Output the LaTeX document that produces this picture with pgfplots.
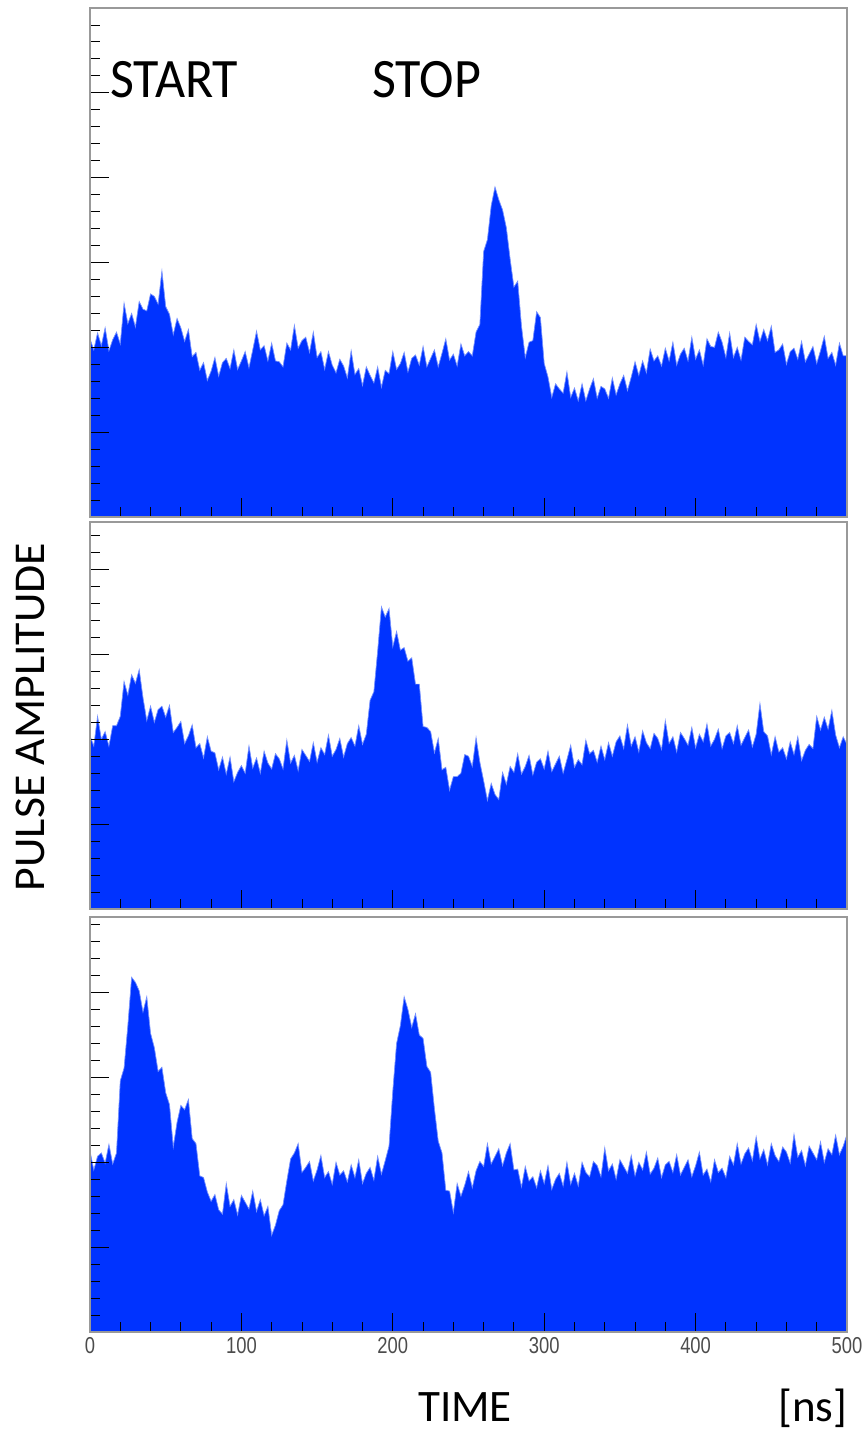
\documentclass[border=0pt]{standalone}
\usepackage{graphicx}
\usepackage{pgfplots}
\pgfplotsset{compat=1.18}
\usepackage{pgfplotstable}
\usepackage{fontspec}
\setmainfont{Carlito}
\newfontfamily\arialf{Liberation Sans}
\definecolor{pblue}{RGB}{0,51,255}
\newcommand\lbl[1]{\scalebox{0.92}[1.15]{\arialf\fontsize{20}{20}\selectfont\color{black!70}#1}}

\pgfplotstableread{
t a b c
0 2.10 2.04 2.13
2.5 1.97 1.92 1.91
5 2.17 2.27 2.07
7.5 2.02 2.00 2.11
10 2.23 2.09 1.99
12.5 1.96 1.92 2.21
15 2.09 2.16 1.98
17.5 2.18 2.16 2.11
20 2.04 2.27 2.96
22.5 2.52 2.68 3.11
25 2.28 2.52 3.61
27.5 2.40 2.76 4.18
30 2.24 2.66 4.12
32.5 2.54 2.82 4.02
35 2.45 2.49 3.77
37.5 2.43 2.22 3.95
40 2.63 2.39 3.52
42.5 2.60 2.20 3.35
45 2.51 2.35 3.07
47.5 2.90 2.39 3.12
50 2.48 2.26 2.82
52.5 2.39 2.40 2.68
55 2.15 2.08 2.18
57.5 2.34 2.14 2.47
60 2.23 2.21 2.67
62.5 2.07 1.95 2.62
65 2.21 2.04 2.74
67.5 1.89 2.17 2.28
70 1.94 1.90 2.22
72.5 1.73 1.95 1.84
75 1.82 1.78 1.82
77.5 1.61 2.03 1.65
80 1.72 1.86 1.54
82.5 1.88 1.84 1.62
85 1.66 1.64 1.44
87.5 1.82 1.79 1.39
90 1.87 1.59 1.75
92.5 1.75 1.79 1.48
95 1.97 1.50 1.56
97.5 1.74 1.61 1.38
100 1.84 1.69 1.61
102.5 1.95 1.60 1.53
105 1.76 1.92 1.45
107.5 1.97 1.66 1.66
110 2.19 1.78 1.42
112.5 1.97 1.60 1.56
115 2.02 1.86 1.37
117.5 1.84 1.72 1.48
120 2.05 1.65 1.14
122.5 1.84 1.83 1.26
125 1.83 1.77 1.43
127.5 1.77 1.65 1.50
130 2.05 1.99 1.78
132.5 1.97 1.72 2.04
135 2.26 1.81 2.11
137.5 1.99 1.63 2.22
140 2.08 1.88 1.88
142.5 2.12 1.81 1.94
145 1.94 1.74 2.01
147.5 2.18 1.96 1.78
150 1.88 1.73 1.91
152.5 1.95 1.90 2.08
155 1.74 1.82 1.82
157.5 1.95 2.05 1.89
160 1.79 1.80 1.74
162.5 1.70 1.88 2.00
165 1.86 2.01 1.85
167.5 1.78 1.79 1.90
170 1.64 1.95 1.77
172.5 1.96 2.02 1.97
175 1.68 1.92 1.82
177.5 1.75 2.16 2.03
180 1.55 1.94 1.75
182.5 1.77 2.06 1.87
185 1.67 2.46 1.94
187.5 1.58 2.56 1.79
190 1.77 3.04 2.07
192.5 1.53 3.56 1.86
195 1.73 3.44 2.02
197.5 1.69 3.54 2.19
200 1.95 3.09 2.84
202.5 1.74 3.27 3.40
205 1.81 3.05 3.61
207.5 1.94 3.08 3.95
210 1.71 2.92 3.80
212.5 1.87 2.96 3.59
215 1.91 2.65 3.75
217.5 1.79 2.65 3.50
220 2.01 2.15 3.46
222.5 1.77 2.14 3.13
225 1.87 2.09 3.06
227.5 1.97 1.84 2.63
230 1.77 2.01 2.25
232.5 1.93 1.64 2.11
235 2.10 1.67 1.67
237.5 1.85 1.40 1.66
240 1.92 1.56 1.41
242.5 1.78 1.56 1.75
245 2.04 1.60 1.60
247.5 1.90 1.82 1.73
250 1.95 1.80 1.89
252.5 1.90 1.68 1.70
255 2.18 2.02 1.90
257.5 2.27 1.73 2.01
260 3.13 1.51 1.95
262.5 3.27 1.28 2.22
265 3.67 1.48 1.98
267.5 3.89 1.35 2.07
270 3.74 1.29 2.16
272.5 3.62 1.61 1.96
275 3.41 1.47 2.11
277.5 3.04 1.68 2.22
280 2.71 1.61 1.91
282.5 2.78 1.83 1.92
285 2.25 1.59 1.71
287.5 1.88 1.68 1.95
290 2.06 1.81 1.78
292.5 2.08 1.58 1.83
295 2.42 1.73 1.70
297.5 2.35 1.77 1.90
300 1.81 1.65 1.75
302.5 1.65 1.86 1.96
305 1.41 1.62 1.68
307.5 1.57 1.71 1.80
310 1.51 1.80 1.87
312.5 1.46 1.60 1.72
315 1.71 1.76 2.00
317.5 1.41 1.93 1.74
320 1.52 1.67 1.87
322.5 1.37 1.76 1.72
325 1.57 1.70 2.00
327.5 1.37 1.99 1.88
330 1.51 1.83 1.83
332.5 1.63 1.87 2.01
335 1.40 1.73 1.96
337.5 1.54 1.92 1.83
340 1.51 1.76 2.17
342.5 1.40 1.96 1.90
345 1.64 1.80 1.98
347.5 1.44 1.97 1.80
350 1.57 2.04 2.03
352.5 1.67 1.89 1.95
355 1.49 2.17 1.87
357.5 1.65 1.92 2.08
360 1.83 2.03 1.84
362.5 1.67 1.85 2.00
365 1.84 2.10 1.91
367.5 1.70 1.96 2.12
370 1.98 1.89 1.86
372.5 1.84 2.07 1.93
375 1.90 2.01 2.05
377.5 1.78 1.88 1.82
380 1.99 2.22 1.97
382.5 1.84 1.95 2.01
385 2.06 2.03 1.88
387.5 1.79 1.85 2.09
390 1.92 2.08 1.85
392.5 1.99 2.01 1.94
395 1.84 1.93 2.03
397.5 2.12 2.14 1.83
400 1.86 1.90 1.96
402.5 1.97 2.06 2.12
405 1.79 1.97 1.85
407.5 2.10 2.18 1.92
410 2.01 1.92 1.77
412.5 2.00 2.00 2.03
415 2.18 2.12 1.88
417.5 2.06 1.89 1.93
420 1.88 2.04 1.82
422.5 2.17 2.08 2.07
425 1.88 1.95 1.97
427.5 2.00 2.16 2.22
430 1.85 1.93 1.98
432.5 2.12 2.02 2.10
435 2.07 2.11 2.17
437.5 2.03 1.91 2.02
440 2.27 2.06 2.30
442.5 2.07 2.42 2.04
445 2.21 2.09 2.15
447.5 2.08 2.04 1.97
450 2.25 1.82 2.22
452.5 1.94 2.03 2.08
455 1.97 1.85 2.01
457.5 2.04 1.90 2.18
460 1.80 1.77 2.12
462.5 1.95 1.97 1.99
465 1.99 1.82 2.33
467.5 1.86 2.03 2.06
470 2.07 1.75 2.14
472.5 1.83 1.87 1.96
475 1.92 1.94 2.19
477.5 2.01 1.89 2.11
480 1.81 2.27 2.03
482.5 1.96 2.11 2.24
485 2.13 2.26 2.00
487.5 1.87 2.12 2.16
490 1.94 2.34 2.09
492.5 1.79 2.05 2.32
495 2.05 1.90 2.09
497.5 1.90 2.03 2.19
500 1.90 1.94 2.33
}\data

\pgfplotsset{
  panel/.style={
    scale only axis, width=757pt,
    xmin=0, xmax=500, ymin=0,
    axis on top,
    xtick={0,100,...,500}, minor x tick num=4,
    ytick={0,1,...,6}, minor y tick num=4,
    tick align=inside, tick pos=left,
    major tick length=19pt, minor tick length=10pt,
    tick style={black, line width=0.9pt},
    axis line style={black!40, line width=1.1pt},
    yticklabels={},
    anchor=south west,
  },
  hist/.style={sharp plot, fill=pblue, draw=pblue!55, line width=0.7pt},
}

\begin{document}
\begin{tikzpicture}
\path[use as bounding box] (0pt,0pt) rectangle (864pt,-1432pt);

\begin{axis}[panel, at={(90pt,-517pt)}, height=509pt, ymax=6.0, xticklabels={}]
\addplot[hist] table[x=t, y=a] {\data} \closedcycle;
\end{axis}

\begin{axis}[panel, at={(90pt,-909pt)}, height=387pt, ymax=4.56, xticklabels={}]
\addplot[hist] table[x=t, y=b] {\data} \closedcycle;
\end{axis}

\begin{axis}[panel, at={(90pt,-1332pt)}, height=415pt, ymax=4.89,
  xticklabels={\lbl{0},\lbl{100},\lbl{200},\lbl{300},\lbl{400},\lbl{500}},
  xticklabel style={yshift=-2pt}]
\addplot[hist] table[x=t, y=c] {\data} \closedcycle;
\end{axis}

\node[anchor=base west, inner sep=0pt, yscale=1.07, font=\fontsize{52}{52}\selectfont] at (110pt,-97pt) {START};
\node[anchor=base west, inner sep=0pt, yscale=1.07, font=\fontsize{52}{52}\selectfont] at (372pt,-97pt) {STOP};
\node[anchor=base west, inner sep=0pt, font=\fontsize{45}{45}\selectfont] at (418pt,-1421pt) {TIME};
\node[anchor=base west, inner sep=0pt, font=\fontsize{45}{45}\selectfont] at (778pt,-1421pt) {[ns]};
\node[rotate=90, inner sep=0pt, anchor=base, font=\fontsize{44}{44}\selectfont, xscale=1.04] at (44pt,-717pt) {PULSE AMPLITUDE};
\end{tikzpicture}
\end{document}
